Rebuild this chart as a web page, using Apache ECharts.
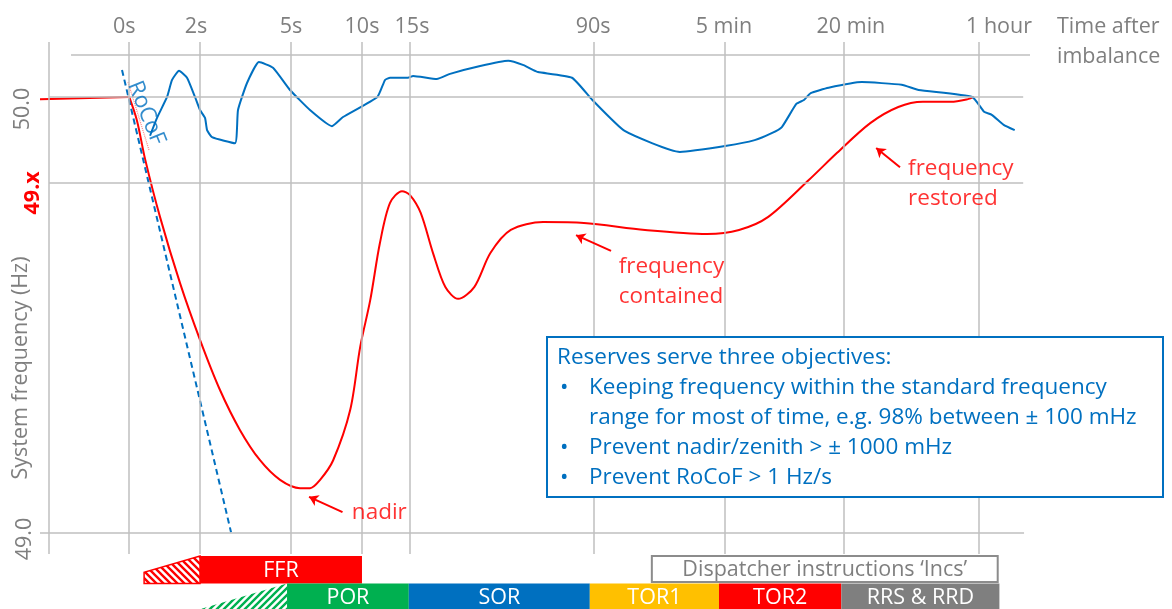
<!DOCTYPE html>
<html><head><meta charset="utf-8">
<script src="https://cdn.jsdelivr.net/npm/echarts@6/dist/echarts.min.js"></script>
<style>html,body{margin:0;padding:0;background:#fff}#c{width:1172px;height:609px}</style>
</head><body><div id="c"></div>
<script>
// ---- Data (x = schematic time position: 0s = 0, 1 hour = 100; y = frequency in Hz) ----
const xTickValues = [0, 8.33, 19.04, 27.39, 33.04, 54.7, 70.1, 84.1, 100];
const xTickLabels = ['0s', '2s', '5s', '10s', '15s', '90s', '5 min', '20 min', '1 hour'];
const leftAxisX = -9.44;
const yTickValues = [49.0, 49.803, 50.0];
const yTickLabels = ['49.0', '49.x', '50.0'];
const topLineY = 50.096;

const redPre = [[-10.5, 49.995], [0, 50.0]];
const redCurve = [[0, 50.0], [0.92, 49.945], [1.86, 49.858], [3.62, 49.725], [5.98, 49.573], [8.33, 49.443],
  [10.68, 49.328], [13.04, 49.236], [15.39, 49.167], [17.75, 49.122], [20.1, 49.103], [21.28, 49.103],
  [22.46, 49.122], [24.0, 49.167], [26.0, 49.282], [27.18, 49.427], [28.36, 49.534], [29.5, 49.665],
  [30.69, 49.757], [32.1, 49.784], [33.04, 49.775], [34.3, 49.734], [35.75, 49.642], [37.2, 49.564],
  [38.7, 49.537], [40.6, 49.564], [42.5, 49.642], [44.9, 49.695], [48.7, 49.713], [53.5, 49.711],
  [60.7, 49.695], [68.0, 49.686], [71.76, 49.695], [75.2, 49.725], [80.0, 49.810], [83.3, 49.872],
  [87.2, 49.940], [90.5, 49.977], [93.4, 49.989], [96.7, 49.989], [98.7, 49.995], [99.4, 50.0]];
const blueCurve = [[2.45, 49.911], [3.27, 49.952], [4.45, 50.0], [5.04, 50.039], [5.86, 50.060], [6.8, 50.044],
  [7.74, 50.0], [8.33, 49.970], [8.92, 49.952], [9.16, 49.924], [9.74, 49.908], [12.45, 49.894], [12.8, 49.970],
  [13.86, 50.032], [15.27, 50.080], [16.92, 50.067], [18.92, 50.016], [21.27, 49.970], [23.86, 49.933],
  [25.16, 49.954], [29.2, 50.0], [30.1, 50.039], [30.7, 50.044], [32.8, 50.044], [33.4, 50.048], [36.2, 50.041],
  [37.75, 50.053], [41.3, 50.071], [44.6, 50.083], [46.4, 50.073], [47.5, 50.062], [48.1, 50.057], [52.1, 50.044],
  [54.5, 49.993], [58.3, 49.922], [64.8, 49.874], [70.3, 49.888], [73.6, 49.901], [75.6, 49.917], [76.8, 49.931],
  [78.5, 49.984], [79.4, 49.993], [80.2, 50.009], [82.3, 50.021], [86.2, 50.034], [90.9, 50.028], [92.9, 50.016],
  [99.2, 50.0], [100.6, 49.966], [101.5, 49.959], [102.9, 49.936], [104.2, 49.924]];
const rocofLine = [[-0.85, 50.062], [11.98, 49.002]];
const rocofUnderline = [[-0.14, 50.034], [2.33, 49.878]];

const annotationTexts = ['nadir', 'frequency\ncontained', 'frequency\nrestored'];
const annotationAt = [[26.2, 49.046], [57.6, 49.576], [91.65, 49.802]];
const arrowFrom = [[25.1, 49.048], [56.7, 49.647], [90.7, 49.839]];
const arrowTo = [[21.16, 49.083], [52.58, 49.683], [87.9, 49.883]];
const rocofLabelAt = [2.0, 49.963];

const reserveNames = ['FFR', 'POR', 'SOR', 'TOR1', 'TOR2', 'RRS & RRD'];
const reserveStart = [8.33, 18.57, 32.9, 54.2, 69.4, 83.8];
const reserveEnd = [27.39, 32.9, 54.2, 69.4, 83.8, 102.4];
const reserveRow = [0, 1, 1, 1, 1, 1];
const rampStart = [1.75, 7.6];
const rampEnd = [8.33, 18.57];
const rampRow = [0, 1];
const dispatcherText = 'Dispatcher instructions \u2018Incs\u2019';
const dispatcherSpan = [61.5, 102.2];

const boxTitle = 'Reserves serve three objectives:';
const boxBullets = [['Keeping frequency within the standard frequency', 'range for most of time, e.g. 98% between \u00b1 100 mHz'],
  ['Prevent nadir/zenith > \u00b1 1000 mHz'], ['Prevent RoCoF > 1 Hz/s']];

// ---- Styles ----
const FONT = '"Open Sans", sans-serif';
const FS = 22.5;
const GRAY = '#7F7F7F', GRIDC = '#BFBFBF', BLUE = '#0070C0', RED = '#FF0000';
const reserveColors = ['#FF0000', '#00B050', '#0070C0', '#FFC000', '#FF0000', '#7F7F7F'];
const rampColors = ['#FF0000', '#00B050'];

function stripes(color, dir) {
  const n = 7, c = document.createElement('canvas'); c.width = c.height = n;
  const g = c.getContext('2d'); g.fillStyle = '#fff'; g.fillRect(0, 0, n, n);
  g.strokeStyle = color; g.lineWidth = 2.4; g.beginPath();
  for (const o of [-n, 0, n]) {
    if (dir > 0) { g.moveTo(-1 + o, n + 1); g.lineTo(n + 1 + o, -1); }
    else { g.moveTo(-1 + o, -1); g.lineTo(n + 1 + o, n + 1); }
  }
  g.stroke(); return c;
}
const rampPatterns = [stripes('#FF0000', -1), stripes('#00B050', 1)];

const xShift = {'0s': -5, '2s': -4, '5s': 0, '10s': 0, '15s': 2, '90s': -1, '5 min': -1, '20 min': 7, '1 hour': 20};
const xRich = {};
xTickLabels.forEach((l, i) => {
  const s = xShift[l];
  xRich['t' + i] = {padding: [0, s < 0 ? -2 * s : 0, 0, s > 0 ? 2 * s : 0], fontSize: 21.5, color: GRAY, fontFamily: FONT};
});
const yStyles = {
  '49.0': {padding: [0, 12, 8, 0]},
  '49.x': {padding: [0, 20, 0, 0], color: RED, fontWeight: 'bold'},
  '50.0': {padding: [0, 24, 10, 0]}
};
const yRich = {};
yTickLabels.forEach((l, i) => { yRich['y' + i] = Object.assign({fontSize: 21.5, color: GRAY, fontFamily: FONT}, yStyles[l]); });

const gridLineData = [];
[leftAxisX, ...xTickValues].forEach(v => gridLineData.push({xAxis: v}));
gridLineData.push([{coord: [-6.85, topLineY]}, {coord: [106, topLineY]}]);
gridLineData.push([{coord: [leftAxisX, 50.0]}, {coord: [105.2, 50.0]}]);
gridLineData.push([{coord: [leftAxisX, yTickValues[1]]}, {coord: [105.2, yTickValues[1]]}]);
gridLineData.push([{coord: [-10.5, 49.0]}, {coord: [105.3, 49.0]}]);

const chart = echarts.init(document.getElementById('c'));
chart.setOption({
  animation: false,
  backgroundColor: '#fff',
  textStyle: {fontFamily: FONT},
  grid: [
    {left: 40, right: 142, top: 42, bottom: 55, containLabel: false, outerBoundsMode: 'none'},
    {left: 40, right: 142, top: 556, height: 55, containLabel: false, outerBoundsMode: 'none'}
  ],
  xAxis: [
    {type: 'value', gridIndex: 0, position: 'top', min: -10.5, max: 106,
      axisLine: {show: false}, axisTick: {show: false}, splitLine: {show: false},
      axisLabel: {customValues: xTickValues, margin: 4, rich: xRich, hideOverlap: false,
        formatter: v => { const i = xTickValues.findIndex(t => Math.abs(t - v) < 1e-6); return i < 0 ? '' : '{t' + i + '|' + xTickLabels[i] + '}'; }},
      name: 'Time after\nimbalance', nameLocation: 'end', nameGap: 27, nameMoveOverlap: false,
      nameTextStyle: {color: GRAY, fontSize: 21.5, lineHeight: 30, fontFamily: FONT, align: 'left', verticalAlign: 'middle'}},
    {type: 'value', gridIndex: 1, min: -10.5, max: 106, show: false}
  ],
  yAxis: [
    {type: 'value', gridIndex: 0, min: 48.952, max: 50.126,
      axisLine: {show: false}, axisTick: {show: false}, splitLine: {show: false},
      axisLabel: {customValues: yTickValues, rotate: 90, margin: -4, rich: yRich, hideOverlap: false,
        formatter: v => { const i = yTickValues.findIndex(t => Math.abs(t - v) < 1e-6); return i < 0 ? '' : '{y' + i + '|' + yTickLabels[i] + '}'; }},
      name: 'System frequency (Hz)', nameLocation: 'middle', nameRotate: 90, nameGap: 8, nameMoveOverlap: false,
      nameTextStyle: {color: GRAY, fontSize: 21.5, fontFamily: FONT, padding: [0, 140, 0, 0]}},
    {type: 'value', gridIndex: 1, min: 0, max: 2, inverse: true, show: false}
  ],
  series: [
    {type: 'line', name: 'grid', data: [], silent: true, z: 1,
      markLine: {silent: true, symbol: 'none', animation: false, label: {show: false},
        lineStyle: {color: GRIDC, width: 1.5, type: 'solid'}, emphasis: {disabled: true}, data: gridLineData}},
    {type: 'line', name: 'pre', data: redPre, showSymbol: false, z: 3,
      lineStyle: {color: RED, width: 2}},
    {type: 'line', name: 'contained', data: redCurve, showSymbol: false, smooth: 0.3, z: 3,
      lineStyle: {color: RED, width: 2}},
    {type: 'line', name: 'normal', data: blueCurve, showSymbol: false, smooth: 0.15, z: 3,
      lineStyle: {color: BLUE, width: 2}},
    {type: 'line', name: 'rocof', data: rocofLine, showSymbol: false, z: 3,
      lineStyle: {color: BLUE, width: 2, type: [6, 4]}},
    {type: 'line', name: 'underline', data: rocofUnderline, showSymbol: false, z: 3,
      lineStyle: {color: '#FF8080', width: 1.2, type: [1, 1]}},
    {type: 'scatter', name: 'annotations', symbolSize: 0, z: 5,
      data: annotationTexts.map((t, i) => ({name: t, value: annotationAt[i]})),
      label: {show: true, position: 'right', distance: 0, formatter: '{b}', color: RED, fontSize: FS, lineHeight: 30, fontFamily: FONT},
      markLine: {silent: true, symbol: ['none', 'arrow'], symbolSize: 9, label: {show: false},
        lineStyle: {color: RED, width: 2, type: 'solid'},
        data: arrowFrom.map((f, i) => [{coord: f}, {coord: arrowTo[i]}])}},
    {type: 'scatter', name: 'rocofLabel', symbolSize: 0, z: 5,
      data: [{name: 'RoCoF', value: rocofLabelAt}],
      label: {show: true, position: 'inside', rotate: -68, formatter: '{b}', color: BLUE, fontSize: FS, fontFamily: FONT}},
    {type: 'custom', name: 'ramps', xAxisIndex: 1, yAxisIndex: 1, z: 4,
      data: rampStart.map((s, i) => [s, rampEnd[i], rampRow[i]]),
      renderItem: (params, api) => {
        const i = params.dataIndex;
        const a = api.coord([api.value(0), api.value(2)]);
        const b = api.coord([api.value(1), api.value(2) + 1]);
        const h = b[1] - a[1];
        const pts = i === 0
          ? [[a[0], b[1]], [a[0], b[1] - 0.41 * h], [b[0], a[1]], [b[0], b[1]]]
          : [[a[0], b[1]], [b[0], a[1]], [b[0], b[1]]];
        return {type: 'polygon', shape: {points: pts},
          style: {fill: {image: rampPatterns[i], repeat: 'repeat'}, stroke: i === 0 ? rampColors[i] : null, lineWidth: 1.5}};
      }},
    {type: 'custom', name: 'reserves', xAxisIndex: 1, yAxisIndex: 1, z: 4,
      data: reserveStart.map((s, i) => [s, reserveEnd[i], reserveRow[i]]),
      renderItem: (params, api) => {
        const i = params.dataIndex;
        const a = api.coord([api.value(0), api.value(2)]);
        const b = api.coord([api.value(1), api.value(2) + 1]);
        return {type: 'group', children: [
          {type: 'rect', shape: {x: a[0], y: a[1], width: b[0] - a[0], height: b[1] - a[1]}, style: {fill: reserveColors[i]}},
          {type: 'text', style: {text: reserveNames[i], x: (a[0] + b[0]) / 2, y: (a[1] + b[1]) / 2 + 1,
            align: 'center', verticalAlign: 'middle', fill: '#fff', fontSize: 21.5, fontFamily: FONT}}
        ]};
      }},
    {type: 'custom', name: 'dispatcher', xAxisIndex: 1, yAxisIndex: 1, z: 4,
      data: [[dispatcherSpan[0], dispatcherSpan[1], 0]],
      renderItem: (params, api) => {
        const a = api.coord([api.value(0), api.value(2)]);
        const b = api.coord([api.value(1), api.value(2) + 1]);
        return {type: 'group', children: [
          {type: 'rect', shape: {x: a[0], y: a[1], width: b[0] - a[0], height: b[1] - a[1] - 1.5},
            style: {fill: '#fff', stroke: '#8C8C8C', lineWidth: 2}},
          {type: 'text', style: {text: dispatcherText, x: (a[0] + b[0]) / 2, y: (a[1] + b[1]) / 2,
            align: 'center', verticalAlign: 'middle', fill: GRAY, fontSize: 21.5, fontFamily: FONT}}
        ]};
      }}
  ],
  graphic: [
    {type: 'rect', z: 10, shape: {x: 547, y: 337, width: 616, height: 160}, style: {fill: '#fff', stroke: BLUE, lineWidth: 2}},
    {type: 'text', z: 11, x: 557, y: 358, style: {text: boxTitle, fill: BLUE, fontSize: FS, fontFamily: FONT, verticalAlign: 'middle'}},
    ...(() => {
      const out = []; let line = 1;
      boxBullets.forEach(b => {
        out.push({type: 'text', z: 11, x: 560, y: 358 + 30 * line, style: {text: '\u2022', fill: BLUE, fontSize: FS, fontFamily: FONT, verticalAlign: 'middle'}});
        b.forEach(t => {
          out.push({type: 'text', z: 11, x: 589, y: 358 + 30 * line, style: {text: t, fill: BLUE, fontSize: FS, fontFamily: FONT, verticalAlign: 'middle'}});
          line++;
        });
      });
      return out;
    })()
  ]
});
</script></body></html>
